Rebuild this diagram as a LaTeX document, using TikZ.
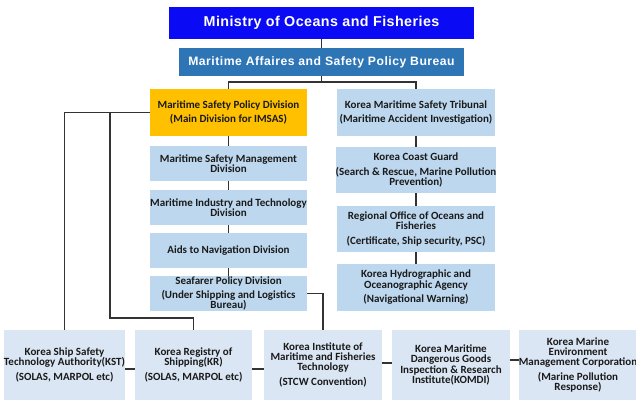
\documentclass[tikz,border=0pt]{standalone}
\usepackage{fontspec}
\setmainfont{Carlito}
\newfontfamily\headfont[LetterSpace=3]{Liberation Sans}
\newfontfamily\burfont[LetterSpace=4]{Liberation Sans}
\usetikzlibrary{calc}
\definecolor{minblue}{HTML}{0A0AF5}
\definecolor{burblue}{HTML}{2E75B6}
\definecolor{orangebox}{HTML}{FFC000}
\definecolor{midblue}{HTML}{BDD7EE}
\definecolor{lowblue}{HTML}{DAE6F3}
\definecolor{linegray}{HTML}{333333}
\definecolor{txt}{HTML}{1A1A1A}
\begin{document}
\begin{tikzpicture}[x=1pt,y=-1pt,
  base/.style={inner sep=0pt, align=center, text=txt,
    font=\fontsize{11}{10.2}\selectfont\bfseries},
  head/.style={inner sep=0pt, align=center, text=white},
  midbox/.style={base, fill=midblue},
  lowbox/.style={base, fill=lowblue, minimum height=70},
  conn/.style={draw=linegray, line width=1.1pt}]
\useasboundingbox (0,0) rectangle (636,401);
% header
\node[head, fill=minblue, minimum width=305, minimum height=32,
  font=\headfont\fontsize{14.3}{15}\selectfont\bfseries] (min) at (321.5,23) {Ministry of Oceans and Fisheries};
\node[head, fill=burblue, minimum width=285, minimum height=28,
  font=\burfont\fontsize{12.2}{13}\selectfont\bfseries] (bur) at (321.5,62) {Maritime Affaires and Safety Policy Bureau};
% left column
\node[base, fill=orangebox, minimum width=157, minimum height=47] (mspd) at (228.5,112.5) {Maritime Safety Policy Division\\[4.5pt](Main Division for IMSAS)};
\node[midbox, minimum width=157, minimum height=35] (msmd) at (228.5,163.5) {Maritime Safety Management\\Division};
\node[midbox, minimum width=157, minimum height=35] (mitd) at (228.5,207.5) {Maritime Industry and Technology\\Division};
\node[midbox, minimum width=157, minimum height=35] (and) at (228.5,250.5) {Aids to Navigation Division};
\node[midbox, minimum width=157, minimum height=35] (spd) at (228.5,293.5) {Seafarer Policy Division\\[4.5pt](Under Shipping and Logistics\\Bureau)};
% right column
\node[midbox, minimum width=158, minimum height=47] (kmst) at (416,112.5) {Korea Maritime Safety Tribunal\\[4.5pt](Maritime Accident Investigation)};
\node[midbox, minimum width=158, minimum height=46] (kcg) at (416,170) {Korea Coast Guard\\[4.5pt](Search \& Rescue, Marine Pollution\\Prevention)};
\node[midbox, minimum width=158, minimum height=46] (roof) at (416,229) {Regional Office of Oceans and\\Fisheries\\[4.5pt](Certificate, Ship security, PSC)};
\node[midbox, minimum width=158, minimum height=47] (khoa) at (416,287.5) {Korea Hydrographic and\\Oceanographic Agency\\[4.5pt](Navigational Warning)};
% bottom row
\node[lowbox, minimum width=117] (kst) at (64.5,365) {Korea Ship Safety\\Technology Authority(KST)\\[4.5pt](SOLAS, MARPOL etc)};
\node[lowbox, minimum width=117] (kr) at (193.5,365) {Korea Registry of\\Shipping(KR)\\[4.5pt](SOLAS, MARPOL etc)};
\node[lowbox, minimum width=118] (kimft) at (323,365) {Korea Institute of\\Maritime and Fisheries\\Technology\\[4.5pt](STCW Convention)};
\node[lowbox, minimum width=118] (komdi) at (451,365) {Korea Maritime\\Dangerous Goods\\Inspection \& Research\\Institute(KOMDI)};
\node[lowbox, minimum width=116] (koem) at (578,365) {Korea Marine\\Environment\\Management Corporation\\[4.5pt](Marine Pollution\\Response)};
% connectors
\coordinate (split) at (321.5,82);
\coordinate (j1) at (110,112.5);
\coordinate (j2) at (110,318);
\draw[conn] (min) -- (bur);
\draw[conn] (bur.south) -- (split) -| (mspd.north);
\draw[conn] (split) -| (kmst.north);
\draw[conn] (mspd) -- (msmd) -- (mitd) -- (and) -- (spd);
\draw[conn] (kmst) -- (kcg) -- (roof) -- (khoa);
\draw[conn] (mspd.west) -| (kst.north);
\draw[conn] (j1) -- (j2) -| (kr.north);
\draw[conn] (spd.east) -| (kimft.north);
\draw[conn] ([yshift=-4pt]kst.east) -- ([yshift=-4pt]kr.west);
\draw[conn] ([yshift=-4pt]kr.east) -- ([yshift=-4pt]kimft.west);
\draw[conn] ([yshift=2pt]kimft.east) -- ([yshift=2pt]komdi.west);
\draw[conn] ([yshift=5pt]komdi.east) -- ([yshift=5pt]koem.west);
\end{tikzpicture}
\end{document}
